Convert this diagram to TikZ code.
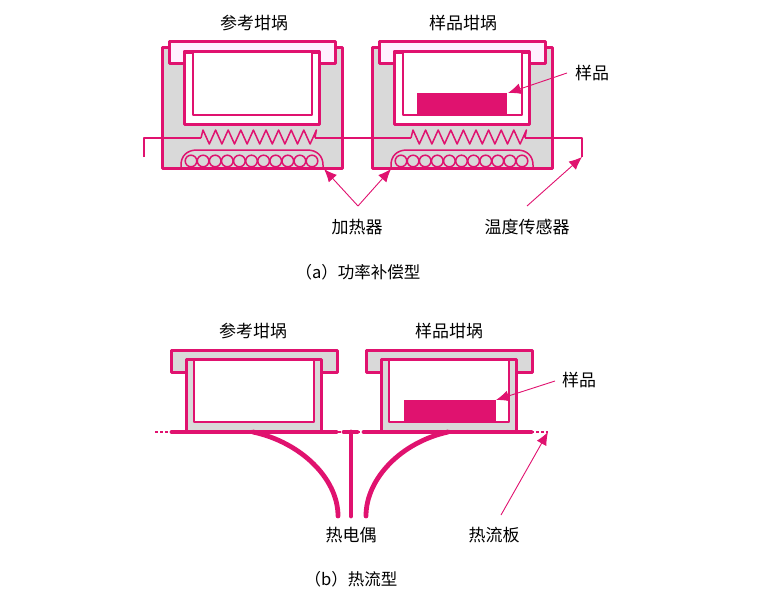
\documentclass[tikz,border=0pt]{standalone}
\usepackage{fontspec}
\setmainfont{Noto Sans CJK SC}
\usetikzlibrary{arrows.meta}
\definecolor{mag}{HTML}{E0126F}
\definecolor{grayfill}{HTML}{D9D9D9}
\definecolor{lidpink}{HTML}{FFF0FF}
\tikzset{
  wall/.style={draw=mag,line width=3.0pt,line join=round},
  inwall/.style={draw=mag,line width=2.4pt,line join=round},
  thin wire/.style={draw=mag,line width=1.5pt,line join=round},
  leader/.style={draw=mag,line width=0.9pt,-{Latex[length=13pt,width=11pt]}},
  plate/.style={draw=mag,line width=4.8pt,line cap=round},
  dashpart/.style={draw=mag,line width=1.8pt,dash pattern=on 3pt off 2pt},
  lbl/.style={inner sep=0pt,font=\fontsize{17}{20}\selectfont,text=black},
  captxt/.style={inner sep=0pt,font=\fontsize{16.5}{20}\selectfont,text=black},
}
% crucible unit of part (a): #1 = x offset
\newcommand{\unitA}[1]{%
  \begin{scope}[xshift=#1pt]
    \draw[wall,fill=grayfill] (162,48) rectangle (342,168);
    \draw[wall,fill=lidpink] (169,42) rectangle (335,63);
    \draw[wall,fill=white] (184,52) rectangle (319,124);
    \draw[inwall,fill=white] (193,52) rectangle (312,115);
    \draw[thin wire] (181,167) -- (181,165) .. controls (181,156) and (187,150) .. (197,150) -- (307,150) .. controls (317,150) and (323,156) .. (323,165) -- (323,167);
    \foreach \k in {0,...,10} \draw[thin wire,fill=grayfill] (191+12.1*\k,161) circle (5.8);
    \draw[thin wire] (201,138) -- (203,130)
      \foreach \k in {0,...,8} { -- (209.3+12.6*\k,144) -- (215.6+12.6*\k,130) } -- (315,138);
  \end{scope}}
\newcommand{\unitB}[1]{%
  \begin{scope}[xshift=#1pt]
    \draw[wall,fill=grayfill] (171,350) rectangle (337,372);
    \draw[wall,fill=grayfill] (186,359) rectangle (321,432);
    \draw[inwall,fill=white] (194,360) rectangle (314,422);
  \end{scope}}
\begin{document}
\begin{tikzpicture}[x=1pt,y=-1pt]
\useasboundingbox (0,0) rectangle (775,602);
% part a
\unitA{0}
\unitA{210}
\fill[mag] (417,93) rectangle (507,115);
\draw[thin wire] (144,157) -- (144,138) -- (201,138);
\draw[thin wire] (315,138) -- (411,138);
\draw[thin wire] (525,138) -- (582,138) -- (582,157);
% labels a
\node[lbl] (r1) at (254,23) {参考坩埚};
\node[lbl] (s1) at (463,23) {样品坩埚};
\node[lbl] (p1) at (592,73) {样品};
\node[lbl] (h1) at (357,227) {加热器};
\node[lbl] (t1) at (527,227) {温度传感器};
\node[captxt] (c1) at (358,272) {（a）功率补偿型};
% connectors a
\coordinate (h0) at (358,206);
\coordinate (t0) at (527,206);
\coordinate (hl) at (324,169);
\coordinate (hr) at (391,169);
\coordinate (tt) at (582,157);
\coordinate (pt) at (508,93);
\coordinate (p0) at (567,73);
\draw[leader] (h0) -- (hl);
\draw[leader] (h0) -- (hr);
\draw[leader] (t0) -- (tt);
\draw[leader] (p0) -- (pt);
% part b
\unitB{0}
\unitB{195}
\fill[mag] (404,400) rectangle (496,422);
\draw[plate] (172,432) -- (336,432);
\draw[plate] (344,432) -- (357,432);
\draw[plate] (364,432) -- (531,432);
\draw[dashpart] (155,432) -- (170,432);
\draw[dashpart] (338,432) -- (344,432);
\draw[dashpart] (357,432) -- (364,432);
\draw[dashpart] (531,432) -- (548,432);
\draw[plate] (351,432) -- (351,516);
\draw[plate] (253,432) .. controls (300,442) and (338,478) .. (338,516);
\draw[plate] (448,432) .. controls (402,442) and (366,478) .. (366,516);
% labels b
\node[lbl] (r2) at (253,331) {参考坩埚};
\node[lbl] (s2) at (449,331) {样品坩埚};
\node[lbl] (p2) at (579,380) {样品};
\node[lbl] (tc) at (351,535) {热电偶};
\node[lbl] (hp) at (494,535) {热流板};
\node[captxt] (c2) at (351,579) {（b）热流型};
% connectors b
\coordinate (q0) at (555,381);
\coordinate (qt) at (496,400);
\coordinate (u0) at (501,515);
\coordinate (ut) at (548,432);
\draw[leader] (q0) -- (qt);
\draw[leader] (u0) -- (ut);
\end{tikzpicture}
\end{document}
